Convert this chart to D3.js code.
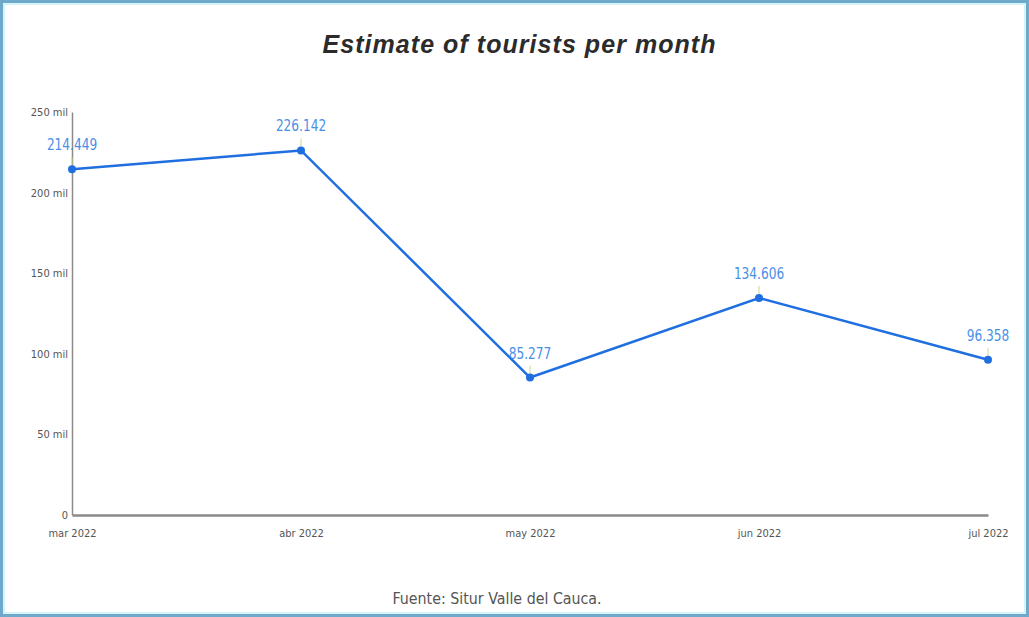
<!DOCTYPE html>
<html>
<head>
<meta charset="utf-8">
<script src="https://cdn.jsdelivr.net/npm/d3@7"></script>
<style>
  html, body { margin: 0; padding: 0; background: #fff; }
  svg { display: block; }
</style>
</head>
<body>
<svg id="chart" width="1029" height="617"></svg>
<script>
// Monthly tourist estimates (Valle del Cauca, 2022)
const months = ["mar 2022", "abr 2022", "may 2022", "jun 2022", "jul 2022"];
const tourists = [214449, 226142, 85277, 134606, 96358];
const yTicks = [0, 50000, 100000, 150000, 200000, 250000];
const yTickLabels = ["0", "50 mil", "100 mil", "150 mil", "200 mil", "250 mil"];

const W = 1029, H = 617;
const margin = { left: 72, right: 41, top: 112, bottom: 102 };
const svg = d3.select("#chart");

const condensed = "'DejaVu Sans', sans-serif";

// outer frame
svg.append("rect")
  .attr("x", 1.5).attr("y", 1.5).attr("width", W - 3).attr("height", H - 3)
  .attr("fill", "#fff").attr("stroke", "#6ea9cc").attr("stroke-width", 3);
svg.append("rect")
  .attr("x", 4).attr("y", 4).attr("width", W - 8).attr("height", H - 8)
  .attr("fill", "none").attr("stroke", "#d4f4fb").attr("stroke-width", 2);

const x = d3.scalePoint().domain(months).range([margin.left, W - margin.right]);
const y = d3.scaleLinear().domain([0, 250000]).range([H - margin.bottom, margin.top]);

const locale = d3.formatLocale({ decimal: ",", thousands: ".", grouping: [3], currency: ["$", ""] });
const fmt = locale.format(",d");

// title
svg.append("text")
  .attr("x", 519).attr("y", 53)
  .attr("text-anchor", "middle")
  .attr("font-family", "'Liberation Sans', Arial, sans-serif")
  .attr("font-weight", "bold").attr("font-style", "italic")
  .attr("font-size", 25).attr("fill", "#2b2b2b")
  .attr("textLength", 393).attr("lengthAdjust", "spacing")
  .text("Estimate of tourists per month");

// y axis
const yAxis = d3.axisLeft(y).tickValues(yTicks)
  .tickFormat((d, i) => yTickLabels[i]).tickSize(0).tickPadding(4);
const gy = svg.append("g").attr("transform", `translate(${margin.left},0)`).call(yAxis);
gy.select(".domain").attr("stroke", "#8a8a8a").attr("stroke-width", 1.5);
gy.selectAll("text").attr("font-family", condensed).attr("font-stretch", "condensed")
  .attr("font-size", 11).attr("fill", "#555");

// x axis
const xAxis = d3.axisBottom(x).tickSize(0).tickPadding(14);
const gx = svg.append("g").attr("transform", `translate(0,${H - margin.bottom})`).call(xAxis);
gx.select(".domain").attr("stroke", "#8a8a8a").attr("stroke-width", 2.5);
gx.selectAll("text").attr("font-family", condensed).attr("font-stretch", "condensed")
  .attr("font-size", 11).attr("fill", "#555");

// series line
const pts = months.map((m, i) => ({ m, v: tourists[i] }));
svg.append("path")
  .datum(pts)
  .attr("fill", "none").attr("stroke", "#1f6fe0").attr("stroke-width", 2.5)
  .attr("d", d3.line().x(d => x(d.m)).y(d => y(d.v)));

// value labels with leader ticks
const lbl = svg.append("g");
lbl.selectAll("line").data(pts).join("line")
  .attr("x1", d => x(d.m)).attr("x2", d => x(d.m))
  .attr("y1", d => y(d.v) - 4).attr("y2", d => y(d.v) - 12)
  .attr("stroke", "#c8d98a").attr("stroke-width", 1);
lbl.selectAll("g").data(pts).join("g")
  .attr("transform", d => `translate(${x(d.m)},${y(d.v) - 19}) scale(0.76,1)`)
  .append("text")
  .attr("text-anchor", "middle")
  .attr("font-family", condensed).attr("font-size", 16)
  .attr("fill", "#4a8fe6")
  .text(d => fmt(d.v));

// points
svg.append("g").selectAll("circle").data(pts).join("circle")
  .attr("cx", d => x(d.m)).attr("cy", d => y(d.v)).attr("r", 4)
  .attr("fill", "#1f6fe0");

// source note
svg.append("g")
  .attr("transform", "translate(497,604) scale(0.89,1)")
  .append("text")
  .attr("text-anchor", "middle")
  .attr("font-family", condensed).attr("font-size", 16)
  .attr("fill", "#555")
  .text("Fuente: Situr Valle del Cauca.");
</script>
</body>
</html>
